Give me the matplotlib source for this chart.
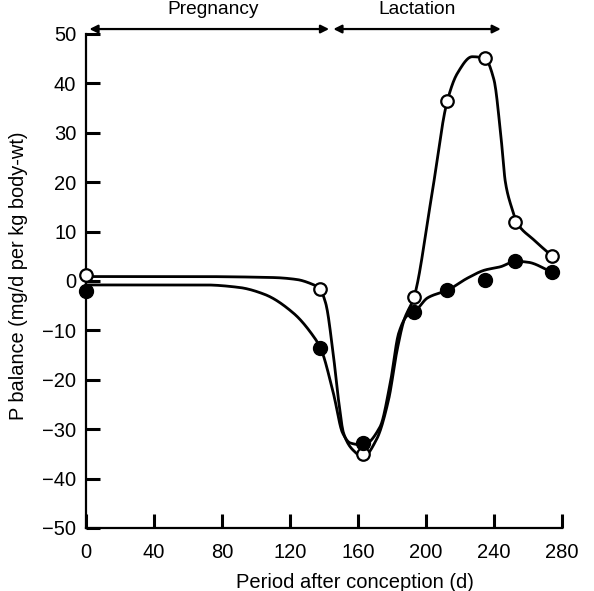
import numpy as np
import matplotlib
matplotlib.use('Agg')
import matplotlib.pyplot as plt

plt.rcParams['font.family'] = ['Liberation Sans', 'DejaVu Sans']

# measured points (days after conception, P balance)
days = [0, 137.5, 163, 193, 212.5, 234.5, 252.5, 274]
open_y = [1.2, -1.6, -35.0, -3.2, 36.4, 45.1, 11.9, 5.1]
filled_y = [-2.0, -13.6, -32.8, -6.3, -1.8, 0.2, 4.0, 1.8]

# hand drawn curves
open_curve_x = [0, 60, 110, 124, 132, 137.5, 141, 145.5, 148.5, 151.5, 157, 163, 171, 178,
                183, 187, 193, 203, 212.5, 218.4, 227.2, 234.5, 240, 243.9, 246.8,
                250.8, 253.3, 263.5, 274]
open_curve_y = [0.9, 0.9, 0.7, 0.3, -0.5, -1.6, -4.5, -15, -24, -30.8, -34.2, -35.6, -32, -24,
                -14, -8, -3.2, 16.5, 36.4, 42.0, 45.4, 45.1, 40.7, 29.9, 19.8, 14.4, 11.9,
                8.3, 5.1]
filled_curve_x = [0, 70, 90, 105, 122, 134, 138, 145.5, 151, 155.5, 163, 173, 179, 184, 189, 193,
                  201, 213, 224.5, 234.5, 244, 252.5, 260, 274]
filled_curve_y = [-0.8, -0.8, -1.3, -2.7, -6.5, -11.3, -13.6, -22.7, -30.8, -32.8, -33.2, -29.5,
                  -20.6, -10.5, -7, -6.3, -3.4, -1.8, 0.6, 2.2, 2.9, 4.0, 3.8, 1.8]

periods = ['Pregnancy', 'Lactation']
period_start = [2, 145.5]
period_end = [143, 244]


def smooth(xs, ys, n=800):
    # monotone cubic (Fritsch-Carlson) so the curve doesn't overshoot
    x = np.asarray(xs, float)
    y = np.asarray(ys, float)
    h = np.diff(x)
    d = np.diff(y) / h
    m = np.zeros_like(y)
    m[0], m[-1] = d[0], d[-1]
    for i in range(1, len(x) - 1):
        if d[i - 1] * d[i] > 0:
            w1 = 2 * h[i] + h[i - 1]
            w2 = h[i] + 2 * h[i - 1]
            m[i] = (w1 + w2) / (w1 / d[i - 1] + w2 / d[i])
    xx = np.linspace(x[0], x[-1], n)
    k = np.clip(np.searchsorted(x, xx) - 1, 0, len(x) - 2)
    t = (xx - x[k]) / h[k]
    h00 = 2 * t**3 - 3 * t**2 + 1
    h10 = t**3 - 2 * t**2 + t
    h01 = -2 * t**3 + 3 * t**2
    h11 = t**3 - t**2
    yy = h00 * y[k] + h10 * h[k] * m[k] + h01 * y[k + 1] + h11 * h[k] * m[k + 1]
    return xx, yy


fig = plt.figure(figsize=(5.94, 5.91), dpi=100)
ax = fig.add_axes([0.1448, 0.1066, 0.8013, 0.8359])

ax.plot(*smooth(open_curve_x, open_curve_y), color='black', lw=2.0, zorder=2, clip_on=False)
ax.plot(*smooth(filled_curve_x, filled_curve_y), color='black', lw=2.0, zorder=2, clip_on=False)
ax.plot(days, open_y, 'o', ms=9, mfc='white', mec='black', mew=1.6, zorder=3, clip_on=False)
ax.plot(days, filled_y, 'o', ms=10, mfc='black', mec='black', zorder=4, clip_on=False)

# period arrows on top
for name, s, e in zip(periods, period_start, period_end):
    ax.annotate('', xy=(s, 51), xytext=(e, 51), annotation_clip=False,
                arrowprops=dict(arrowstyle='<|-|>', color='black', lw=1.6,
                                mutation_scale=12, shrinkA=0, shrinkB=0))
    ax.text((s + e) / 2 + (2 if name == 'Pregnancy' else 0), 53.3, name, ha='center',
            va='bottom', fontsize=13.8)

ax.set_xlim(0, 280)
ax.set_ylim(-50, 50)
ax.set_xticks(range(0, 281, 40))
ax.set_yticks(range(-50, 51, 10))
ax.spines['top'].set_visible(False)
ax.spines['right'].set_visible(False)
for sp in ('left', 'bottom'):
    ax.spines[sp].set_linewidth(1.6)
ax.tick_params(direction='in', length=10, width=2.2, labelsize=14.5)
ax.tick_params(axis='y', pad=7)
ax.tick_params(axis='x', pad=10.5)

ax.set_xlabel('Period after conception (d)', fontsize=14.5)
ax.xaxis.set_label_coords(0.565, -0.091)
ax.set_ylabel('P balance (mg/d per kg body-wt)', fontsize=14.4)
ax.yaxis.set_label_coords(-0.122, 0.51)

fig.savefig('out.png', dpi=100)
